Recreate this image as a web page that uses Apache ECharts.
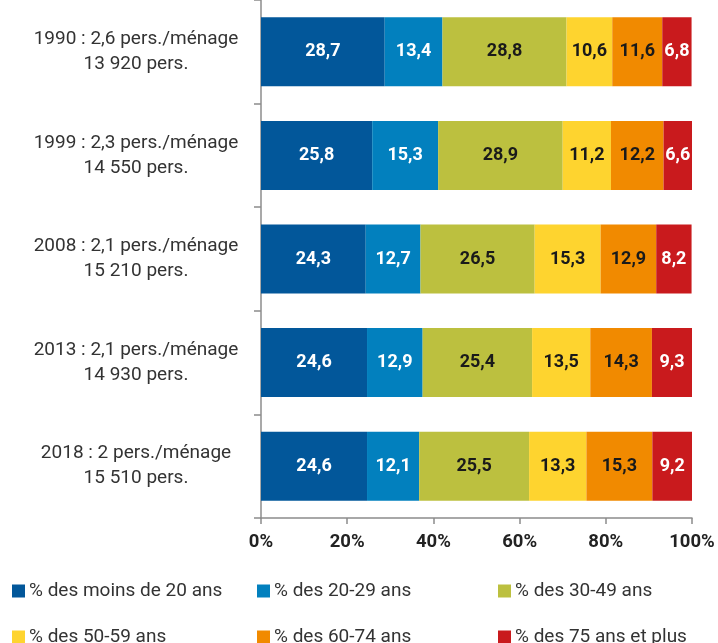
<!DOCTYPE html>
<html><head><meta charset="utf-8">
<script src="https://cdn.jsdelivr.net/npm/echarts@6/dist/echarts.min.js"></script>
<style>html,body{margin:0;padding:0;background:#fff}#c{width:718px;height:643px}</style>
</head><body><div id="c"></div>
<script>
const categories = [
  "1990 : 2,6 pers./ménage\n13 920 pers.",
  "1999 : 2,3 pers./ménage\n14 550 pers.",
  "2008 : 2,1 pers./ménage\n15 210 pers.",
  "2013 : 2,1 pers./ménage\n14 930 pers.",
  "2018 : 2 pers./ménage\n15 510 pers."
];
const seriesNames = ["% des moins de 20 ans","% des 20-29 ans","% des 30-49 ans","% des 50-59 ans","% des 60-74 ans","% des 75 ans et plus"];
const moins20 = [28.7, 25.8, 24.3, 24.6, 24.6];
const a20_29 = [13.4, 15.3, 12.7, 12.9, 12.1];
const a30_49 = [28.8, 28.9, 26.5, 25.4, 25.5];
const a50_59 = [10.6, 11.2, 15.3, 13.5, 13.3];
const a60_74 = [11.6, 12.2, 12.9, 14.3, 15.3];
const a75plus = [6.8, 6.6, 8.2, 9.3, 9.2];
const xTicks = [0, 20, 40, 60, 80, 100];

const values = [moins20, a20_29, a30_49, a50_59, a60_74, a75plus];
const colors = ["#02579A","#0280BE","#BCC03F","#FED42F","#F18A00","#C91A1D"];
const labelColors = ["#fff","#fff","#1a1a1a","#1a1a1a","#1a1a1a","#fff"];
const FONT = "Roboto";

const chart = echarts.init(document.getElementById('c'));
const legendPos = [[12, 581], [257, 581], [498, 581], [12, 627], [257, 627], [498, 627]];
const legends = seriesNames.map((n, i) => ({
  orient: 'horizontal', left: legendPos[i][0], top: legendPos[i][1],
  itemWidth: 13, itemHeight: 13, icon: 'rect', data: [n], padding: 0,
  textStyle: {fontFamily: FONT, fontSize: 19, lineHeight: 20, color: '#333', padding: [0,0,0,-1]}
}));
chart.setOption({
  animation: false,
  color: colors,
  grid: {left: 261, right: 26, top: 0, bottom: 125, containLabel: false},
  legend: legends,
  xAxis: {
    type: 'value', min: xTicks[0], max: xTicks[xTicks.length-1], interval: 20,
    axisLine: {show: true, lineStyle: {color: '#8c8c8c', width: 1.5}},
    axisTick: {show: true, length: 6, lineStyle: {color: '#8c8c8c', width: 1.5}},
    splitLine: {show: false},
    axisLabel: {margin: 15, fontFamily: FONT, fontWeight: 'bold', fontSize: 18.5, color: '#222',
      formatter: v => v + '%'}
  },
  yAxis: {
    type: 'category', inverse: true, data: categories,
    axisLine: {show: true, lineStyle: {color: '#8c8c8c', width: 1.5}},
    axisTick: {show: true, length: 7, lineStyle: {color: '#8c8c8c', width: 1.5}},
    axisLabel: {margin: 125, align: 'center', fontFamily: FONT, fontSize: 19, color: '#333', lineHeight: 25}
  },
  series: values.map((arr, i) => ({
    name: seriesNames[i], type: 'bar', stack: 'total', barWidth: 69,
    data: arr,
    label: {show: true, position: 'inside', fontFamily: FONT, fontWeight: 'bold', fontSize: 18,
      color: labelColors[i], formatter: p => String(p.value).replace('.', ',')},
    itemStyle: {color: colors[i]}
  }))
});
</script></body></html>
